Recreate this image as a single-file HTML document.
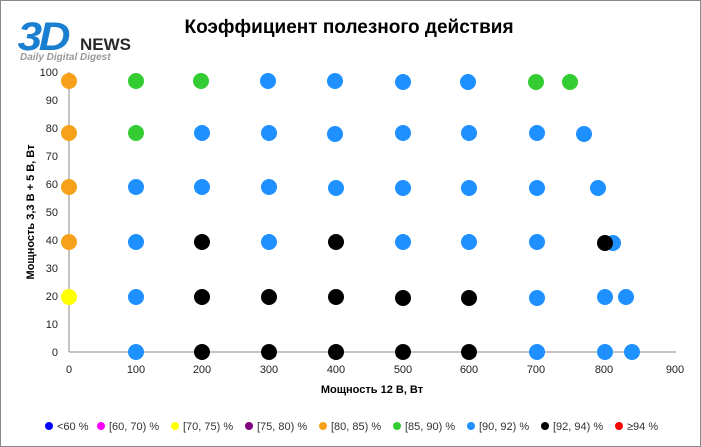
<!DOCTYPE html>
<html><head><meta charset="utf-8"><style>
html,body{margin:0;padding:0;background:#fff;}
svg{display:block;font-family:"Liberation Sans",sans-serif;}
</style></head><body>
<svg width="701" height="447" viewBox="0 0 701 447" xmlns="http://www.w3.org/2000/svg">
<rect x="0.5" y="0.5" width="700" height="446" fill="#fff" stroke="#888"/>
<!-- logo -->
<text x="18" y="50" font-size="40" font-weight="bold" font-style="italic" fill="#1a7fd0" letter-spacing="-3" transform="scale(1.1,1) translate(-2,0)">3D</text>
<text x="80" y="50" font-size="17" font-weight="bold" fill="#2a2a2a">NEWS</text>
<text x="20" y="60" font-size="10" font-weight="bold" font-style="italic" fill="#999">Daily Digital Digest</text>
<text x="349" y="33" font-size="19" font-weight="bold" text-anchor="middle" fill="#000">Коэффициент полезного действия</text>
<!-- axes -->
<line x1="69" y1="72" x2="69" y2="352" stroke="#888"/>
<line x1="69" y1="352" x2="676" y2="352" stroke="#888"/>
<g font-size="11" fill="#222" text-anchor="end">
<text x="58" y="356">0</text><text x="58" y="328">10</text><text x="58" y="300">20</text><text x="58" y="272">30</text><text x="58" y="244">40</text><text x="58" y="216">50</text><text x="58" y="188">60</text><text x="58" y="160">70</text><text x="58" y="132">80</text><text x="58" y="104">90</text><text x="58" y="76">100</text>
</g>
<g font-size="11" fill="#222" text-anchor="middle">
<text x="69" y="373">0</text><text x="136" y="373">100</text><text x="202" y="373">200</text><text x="269" y="373">300</text><text x="336" y="373">400</text><text x="403" y="373">500</text><text x="469" y="373">600</text><text x="536" y="373">700</text><text x="604" y="373">800</text><text x="675" y="373">900</text>
</g>
<text x="372" y="393" font-size="11" font-weight="bold" text-anchor="middle">Мощность  12 В, Вт</text>
<text transform="translate(34,212) rotate(-90)" font-size="11" font-weight="bold" text-anchor="middle">Мощность  3,3 В + 5 В, Вт</text>
<g>
<circle cx="69" cy="81" r="8" fill="#f7a11a"/><circle cx="136" cy="81" r="8" fill="#33cc33"/><circle cx="201" cy="81" r="8" fill="#33cc33"/><circle cx="268" cy="81" r="8" fill="#1e90ff"/><circle cx="335" cy="81" r="8" fill="#1e90ff"/><circle cx="403" cy="82" r="8" fill="#1e90ff"/><circle cx="468" cy="82" r="8" fill="#1e90ff"/><circle cx="536" cy="82" r="8" fill="#33cc33"/><circle cx="570" cy="82" r="8" fill="#33cc33"/>
<circle cx="69" cy="133" r="8" fill="#f7a11a"/><circle cx="136" cy="133" r="8" fill="#33cc33"/><circle cx="202" cy="133" r="8" fill="#1e90ff"/><circle cx="269" cy="133" r="8" fill="#1e90ff"/><circle cx="335" cy="134" r="8" fill="#1e90ff"/><circle cx="403" cy="133" r="8" fill="#1e90ff"/><circle cx="469" cy="133" r="8" fill="#1e90ff"/><circle cx="537" cy="133" r="8" fill="#1e90ff"/><circle cx="584" cy="134" r="8" fill="#1e90ff"/>
<circle cx="69" cy="187" r="8" fill="#f7a11a"/><circle cx="136" cy="187" r="8" fill="#1e90ff"/><circle cx="202" cy="187" r="8" fill="#1e90ff"/><circle cx="269" cy="187" r="8" fill="#1e90ff"/><circle cx="336" cy="188" r="8" fill="#1e90ff"/><circle cx="403" cy="188" r="8" fill="#1e90ff"/><circle cx="469" cy="188" r="8" fill="#1e90ff"/><circle cx="537" cy="188" r="8" fill="#1e90ff"/><circle cx="598" cy="188" r="8" fill="#1e90ff"/>
<circle cx="69" cy="242" r="8" fill="#f7a11a"/><circle cx="136" cy="242" r="8" fill="#1e90ff"/><circle cx="202" cy="242" r="8" fill="#000"/><circle cx="269" cy="242" r="8" fill="#1e90ff"/><circle cx="336" cy="242" r="8" fill="#000"/><circle cx="403" cy="242" r="8" fill="#1e90ff"/><circle cx="469" cy="242" r="8" fill="#1e90ff"/><circle cx="537" cy="242" r="8" fill="#1e90ff"/><circle cx="613" cy="243" r="8" fill="#1e90ff"/><circle cx="605" cy="243" r="8" fill="#000"/>
<circle cx="69" cy="297" r="8" fill="#ffff00"/><circle cx="136" cy="297" r="8" fill="#1e90ff"/><circle cx="202" cy="297" r="8" fill="#000"/><circle cx="269" cy="297" r="8" fill="#000"/><circle cx="336" cy="297" r="8" fill="#000"/><circle cx="403" cy="298" r="8" fill="#000"/><circle cx="469" cy="298" r="8" fill="#000"/><circle cx="537" cy="298" r="8" fill="#1e90ff"/><circle cx="605" cy="297" r="8" fill="#1e90ff"/><circle cx="626" cy="297" r="8" fill="#1e90ff"/>
<circle cx="136" cy="352" r="8" fill="#1e90ff"/><circle cx="202" cy="352" r="8" fill="#000"/><circle cx="269" cy="352" r="8" fill="#000"/><circle cx="336" cy="352" r="8" fill="#000"/><circle cx="403" cy="352" r="8" fill="#000"/><circle cx="469" cy="352" r="8" fill="#000"/><circle cx="537" cy="352" r="8" fill="#1e90ff"/><circle cx="605" cy="352" r="8" fill="#1e90ff"/><circle cx="632" cy="352" r="8" fill="#1e90ff"/>
</g>
<!-- legend -->
<g font-size="11" fill="#333">
<circle cx="49" cy="426" r="4" fill="#0000ff"/><text x="57" y="430">&lt;60 %</text>
<circle cx="101" cy="426" r="4" fill="#ff00ff"/><text x="109" y="430">[60, 70) %</text>
<circle cx="175" cy="426" r="4" fill="#ffff00"/><text x="183" y="430">[70, 75) %</text>
<circle cx="249" cy="426" r="4" fill="#800080"/><text x="257" y="430">[75, 80) %</text>
<circle cx="323" cy="426" r="4" fill="#f7a11a"/><text x="331" y="430">[80, 85) %</text>
<circle cx="397" cy="426" r="4" fill="#33cc33"/><text x="405" y="430">[85, 90) %</text>
<circle cx="471" cy="426" r="4" fill="#1e90ff"/><text x="479" y="430">[90, 92) %</text>
<circle cx="545" cy="426" r="4" fill="#000"/><text x="553" y="430">[92, 94) %</text>
<circle cx="619" cy="426" r="4" fill="#ff0000"/><text x="627" y="430">≥94 %</text>
</g>
</svg>
</body></html>
